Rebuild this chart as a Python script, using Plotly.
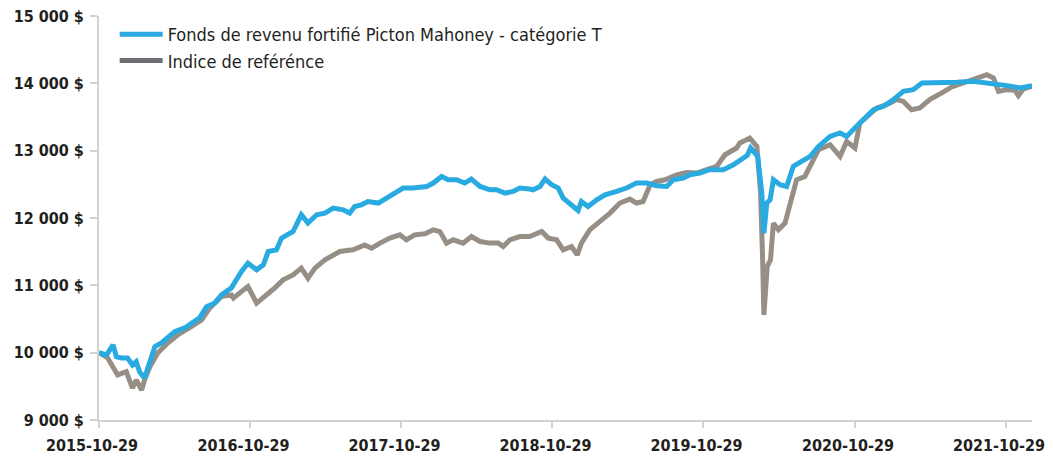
import plotly.graph_objects as go

# ---- data ----
fund_dates = [
    "2015-10-29", "2015-11-16", "2015-12-02", "2015-12-10", "2015-12-22", "2016-01-06",
    "2016-01-18", "2016-01-27", "2016-02-04", "2016-02-16", "2016-02-29", "2016-03-12",
    "2016-03-28", "2016-04-12", "2016-04-29", "2016-05-23", "2016-06-16", "2016-06-28",
    "2016-07-15", "2016-08-04", "2016-08-20", "2016-09-13", "2016-10-07", "2016-10-23",
    "2016-11-13", "2016-11-29", "2016-12-11", "2016-12-31", "2017-01-12", "2017-02-09",
    "2017-03-01", "2017-03-17", "2017-04-07", "2017-04-27", "2017-05-17", "2017-06-10",
    "2017-06-26", "2017-07-08", "2017-07-24", "2017-08-09", "2017-09-03", "2017-09-23",
    "2017-10-17", "2017-11-02", "2017-11-26", "2017-12-29", "2018-01-14", "2018-02-03",
    "2018-02-19", "2018-03-11", "2018-03-31", "2018-04-16", "2018-05-07", "2018-05-31",
    "2018-06-16", "2018-07-06", "2018-07-26", "2018-08-11", "2018-09-04", "2018-09-12",
    "2018-09-29", "2018-10-11", "2018-10-27", "2018-11-12", "2018-11-24", "2018-12-10",
    "2018-12-30", "2019-01-07", "2019-01-23", "2019-02-13", "2019-03-05", "2019-04-02",
    "2019-04-26", "2019-05-20", "2019-06-14", "2019-07-08", "2019-08-01", "2019-08-17",
    "2019-09-10", "2019-09-26", "2019-10-20", "2019-11-13", "2019-12-16", "2020-01-09",
    "2020-01-29", "2020-02-12", "2020-02-20", "2020-03-08", "2020-03-18", "2020-03-23",
    "2020-03-30", "2020-04-07", "2020-04-15", "2020-05-01", "2020-05-17", "2020-06-02",
    "2020-06-22", "2020-07-13", "2020-08-02", "2020-08-30", "2020-09-23", "2020-10-09",
    "2020-11-02", "2020-11-23", "2020-12-13", "2021-01-06", "2021-01-30", "2021-02-23",
    "2021-03-19", "2021-04-09", "2021-05-15", "2021-07-02", "2021-08-11", "2021-09-21",
    "2021-10-31", "2021-12-02", "2021-12-31",
]
fund_values = [
    10000, 9966, 10115, 9940, 9921, 9921,
    9817, 9866, 9717, 9624, 9866, 10089,
    10144, 10219, 10312, 10367, 10461, 10516,
    10684, 10739, 10858, 10962, 11204, 11329,
    11230, 11304, 11502, 11527, 11701, 11799,
    12048, 11924, 12048, 12073, 12147, 12122,
    12073, 12171, 12196, 12245, 12222, 12296,
    12394, 12445, 12445, 12468, 12519, 12617,
    12568, 12568, 12519, 12578, 12468, 12419,
    12419, 12370, 12394, 12445, 12430, 12419,
    12468, 12578, 12494, 12445, 12296, 12222,
    12112, 12245, 12171, 12271, 12345, 12394,
    12445, 12519, 12519, 12479, 12468, 12568,
    12593, 12642, 12668, 12717, 12717, 12791,
    12865, 12930, 13040, 12915, 12370, 11775,
    12222, 12271, 12568, 12494, 12468, 12766,
    12840, 12915, 13063, 13212, 13263, 13212,
    13361, 13486, 13609, 13658, 13758, 13881,
    13906, 14006, 14006, 14015, 14030, 14006,
    13966, 13932, 13966,
]

bench_dates = [
    "2015-10-29", "2015-11-19", "2015-12-13", "2016-01-03", "2016-01-18", "2016-01-27",
    "2016-02-09", "2016-02-16", "2016-02-29", "2016-03-19", "2016-04-12", "2016-05-06",
    "2016-06-08", "2016-07-03", "2016-07-23", "2016-08-20", "2016-09-13", "2016-09-18",
    "2016-10-07", "2016-10-23", "2016-11-13", "2016-12-03", "2016-12-27", "2017-01-16",
    "2017-02-09", "2017-03-01", "2017-03-17", "2017-04-03", "2017-04-27", "2017-06-02",
    "2017-07-04", "2017-08-01", "2017-08-18", "2017-09-07", "2017-10-01", "2017-10-25",
    "2017-11-10", "2017-11-30", "2017-12-25", "2018-01-14", "2018-01-30", "2018-02-15",
    "2018-03-03", "2018-03-27", "2018-04-16", "2018-05-07", "2018-05-31", "2018-06-20",
    "2018-07-02", "2018-07-18", "2018-08-11", "2018-09-04", "2018-10-03", "2018-10-19",
    "2018-11-08", "2018-11-24", "2018-12-14", "2018-12-28", "2019-01-07", "2019-01-27",
    "2019-02-21", "2019-03-17", "2019-04-10", "2019-05-04", "2019-05-20", "2019-06-05",
    "2019-06-22", "2019-07-08", "2019-07-28", "2019-08-25", "2019-09-18", "2019-10-12",
    "2019-11-06", "2019-11-30", "2019-12-20", "2020-01-17", "2020-01-25", "2020-02-18",
    "2020-03-06", "2020-03-15", "2020-03-20", "2020-03-23", "2020-03-31", "2020-04-08",
    "2020-04-15", "2020-04-27", "2020-05-13", "2020-05-25", "2020-06-10", "2020-06-30",
    "2020-07-13", "2020-08-02", "2020-08-30", "2020-09-23", "2020-10-09", "2020-10-29",
    "2020-11-10", "2020-12-05", "2020-12-21", "2021-01-14", "2021-02-07", "2021-02-23",
    "2021-03-15", "2021-04-04", "2021-04-28", "2021-05-27", "2021-06-20", "2021-07-18",
    "2021-08-19", "2021-09-13", "2021-09-29", "2021-10-11", "2021-10-31", "2021-11-20",
    "2021-11-28", "2021-12-10", "2021-12-31",
]
bench_values = [
    10000, 9921, 9669, 9717, 9475, 9594,
    9445, 9594, 9792, 9996, 10144, 10263,
    10387, 10486, 10665, 10833, 10858, 10810,
    10907, 10981, 10735, 10833, 10962, 11081,
    11155, 11255, 11106, 11255, 11378, 11502,
    11527, 11601, 11552, 11627, 11701, 11750,
    11676, 11750, 11765, 11825, 11799, 11627,
    11676, 11627, 11725, 11651, 11627, 11627,
    11576, 11676, 11725, 11725, 11799, 11701,
    11676, 11527, 11576, 11453, 11627, 11824,
    11948, 12073, 12222, 12281, 12222, 12245,
    12494, 12543, 12568, 12642, 12677, 12668,
    12717, 12766, 12940, 13039, 13114, 13188,
    13063, 12370, 11378, 10560, 11279, 11378,
    11924, 11825, 11924, 12222, 12568, 12617,
    12766, 13014, 13089, 12915, 13138, 13039,
    13411, 13535, 13634, 13683, 13758, 13732,
    13609, 13634, 13758, 13857, 13946, 14006,
    14065, 14129, 14080, 13881, 13906, 13896,
    13817, 13917, 13956,
]

series_names = ["Fonds de revenu fortifié Picton Mahoney - catégorie T",
                "Indice de reféréncе".replace("е", "e")]

x_tick_vals = ["2015-10-29", "2016-10-29", "2017-10-29", "2018-10-29",
               "2019-10-29", "2020-10-29", "2021-10-29"]
x_tick_text = ["2015-10-29", "2016-10-29", "2017-10-29", "2018-10-29",
               "2019-10-29", "2020-10-29", "2021-10-29"]
y_tick_vals = [9000, 10000, 11000, 12000, 13000, 14000, 15000]
y_tick_text = ["9 000 $", "10 000 $", "11 000 $", "12 000 $", "13 000 $", "14 000 $", "15 000 $"]

# ---- styling ----
BLUE = "#29abe2"
GRAY = "#978e86"
GRAY_LEGEND = "#6d6e71"
TEXT = "#231f20"
AXIS = "#d3d2cf"
FONT = "DejaVu Sans Condensed"

fig = go.Figure()
fig.add_trace(go.Scatter(x=bench_dates, y=bench_values, mode="lines",
                         line=dict(color=GRAY, width=5), showlegend=False,
                         name=series_names[1]))
fig.add_trace(go.Scatter(x=fund_dates, y=fund_values, mode="lines",
                         line=dict(color=BLUE, width=5), showlegend=False,
                         name=series_names[0]))
# legend entries
fig.add_trace(go.Scatter(x=[None], y=[None], mode="lines",
                         line=dict(color=BLUE, width=5), name=series_names[0],
                         legendgroup="a"))
fig.add_trace(go.Scatter(x=[None], y=[None], mode="lines",
                         line=dict(color=GRAY_LEGEND, width=5), name=series_names[1],
                         legendgroup="b"))

fig.update_layout(
    width=1053, height=456,
    margin=dict(l=99, r=21, t=16, b=36, autoexpand=False),
    paper_bgcolor="white", plot_bgcolor="white",
    font=dict(family=FONT, color=TEXT),
    legend=dict(x=0.0168, y=1.0, xanchor="left", yanchor="top",
                font=dict(family=FONT, size=18, color=TEXT),
                bgcolor="rgba(0,0,0,0)", itemwidth=43, tracegroupgap=4,
                traceorder="normal"),
    xaxis=dict(type="date", range=["2015-10-29", "2021-12-31"],
               tickvals=x_tick_vals, ticktext=x_tick_text,
               showgrid=False, zeroline=False, automargin=False,
               showline=True, linecolor=AXIS, linewidth=2,
               ticks="outside", ticklen=6, tickcolor=AXIS, tickwidth=2,
               tickfont=dict(family=FONT, size=16, color=TEXT, weight="bold"),
               ticklabelshift=-7, ticklabelstandoff=4),
    yaxis=dict(range=[9000, 15000], tickvals=y_tick_vals, ticktext=y_tick_text,
               showgrid=False, zeroline=False, automargin=False,
               showline=True, linecolor=AXIS, linewidth=2,
               ticks="outside", ticklen=7, tickcolor=AXIS, tickwidth=2,
               tickfont=dict(family=FONT, size=16, color=TEXT, weight="bold"),
               ticklabelstandoff=3),
)

fig.write_html("out.html",
               config={"displayModeBar": False},
               post_script="document.body.style.margin='0';document.body.style.overflow='hidden';")
